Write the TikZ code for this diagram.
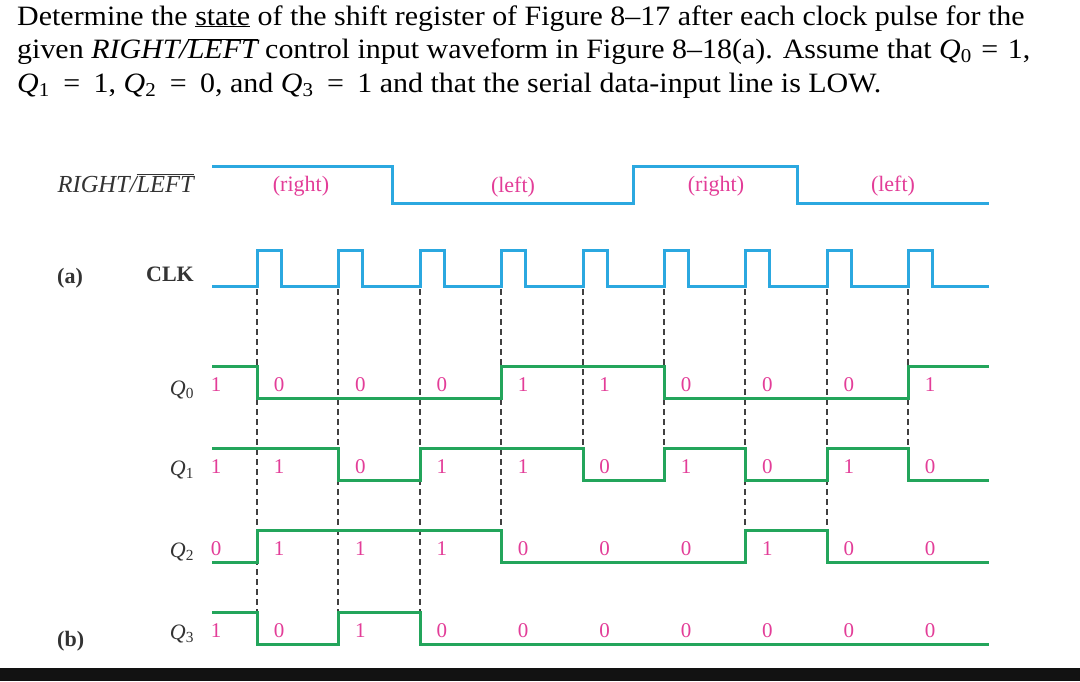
\documentclass[tikz,border=0pt]{standalone}
\usepackage{fontspec}
\setmainfont{Liberation Serif}
\definecolor{wblue}{HTML}{2BA8E0}
\definecolor{wgreen}{HTML}{23A55B}
\definecolor{wpink}{HTML}{E33D98}
\definecolor{wtext}{HTML}{333333}
\newcommand{\eqsp}[1][0.32em]{\hspace{#1}=\hspace{#1}}
\newcommand{\wide}[1]{\scalebox{1.07}[1]{#1}}
\begin{document}
\begin{tikzpicture}[x=1pt,y=-1pt,line join=miter,
	bluewave/.style={wblue,line width=3pt},
	greenwave/.style={wgreen,line width=3pt},
	guide/.style={black!75,line width=1.8pt,dash pattern=on 6pt off 4pt},
	bit/.style={wpink,font=\fontsize{21}{21}\selectfont,inner sep=0pt},
	sig/.style={wtext,font=\fontsize{22}{22}\selectfont,inner sep=0pt},
	textline/.style={anchor=base west,inner sep=0pt,font=\fontsize{28}{28}\selectfont}]
	\fill[white] (0,0) rectangle (1080,681);
	\useasboundingbox (0,0) rectangle (1080,681);
	\fill[black!93] (0,668) rectangle (1080,681);
	% question text
	\node[textline] (l1) at (17,25) {\wide{Determine the \underline{state} of the shift register of Figure 8--17 after each clock pulse for the}};
	\node[textline] (l2) at (17,58.5) {\wide{given \textit{RIGHT/$\overline{\mbox{\textit{LEFT}}}$} control input waveform in Figure 8--18(a). Assume that \textit{Q}\textsubscript{0}\eqsp 1,}};
	\node[textline] (l3) at (17,92) {\wide{\textit{Q}\textsubscript{1}\eqsp[0.45em]1, \textit{Q}\textsubscript{2}\eqsp[0.45em]0, and \textit{Q}\textsubscript{3}\eqsp[0.45em]1 and that the serial data-input line is LOW.}};
	% signal names
	\node[sig,anchor=base east,font=\fontsize{24.5}{24.5}\selectfont] (rl) at (194,192) {\textit{RIGHT/$\overline{\mbox{\textit{LEFT}}}$}};
	\node[sig,anchor=base east] (clk) at (194,281) {\textbf{CLK}};
	\node[sig,anchor=base west] (a) at (57,283) {\textbf{(a)}};
	\node[sig,anchor=base west] (b) at (57,646) {\textbf{(b)}};
	\foreach \i/\y in {0/390,1/470,2/552,3/634}
		\node[sig] (q\i) at (182,\y) {\textit{Q}\textsubscript{\i}};
	% clock edges
	\foreach \x/\yend in {257/612,338/612,420/612,501/530,583/448,664/448,745/530,827/530,908/448}
		\draw[guide] (\x,289) -- (\x,\yend);
	% RIGHT/LEFT and CLK
	\draw[bluewave] (212,166) -- (392,166) -- (392,203) -- (633,203) -- (633,166) -- (797,166) -- (797,203) -- (989,203);
	\draw[bluewave] (212,286) \foreach \x in {257,338,420,501,583,664,745,827,908} { -- (\x,286) -- (\x,250) -- ({\x+24},250) -- ({\x+24},286) } -- (989,286);
	\node[bit,font=\fontsize{22}{22}\selectfont] (r1) at (301,186) {(right)};
	\node[bit,font=\fontsize{22}{22}\selectfont] (f1) at (513,187) {(left)};
	\node[bit,font=\fontsize{22}{22}\selectfont] (r2) at (716,186) {(right)};
	\node[bit,font=\fontsize{22}{22}\selectfont] (f2) at (893,186) {(left)};
	% Q outputs
	\draw[greenwave] (212,366) -- (257,366) -- (257,398) -- (501,398) -- (501,366) -- (664,366) -- (664,398) -- (908,398) -- (908,366) -- (989,366);
	\draw[greenwave] (212,448) -- (338,448) -- (338,480) -- (420,480) -- (420,448) -- (583,448) -- (583,480) -- (664,480) -- (664,448) -- (745,448) -- (745,480) -- (827,480) -- (827,448) -- (908,448) -- (908,480) -- (989,480);
	\draw[greenwave] (212,562) -- (257,562) -- (257,530) -- (501,530) -- (501,562) -- (745,562) -- (745,530) -- (827,530) -- (827,562) -- (989,562);
	\draw[greenwave] (212,612) -- (257,612) -- (257,644) -- (338,644) -- (338,612) -- (420,612) -- (420,644) -- (989,644);
	% states after each pulse
	\foreach \y/\s/\bits in {385/1/{0,0,0,1,1,0,0,0,1},467/1/{1,0,1,1,0,1,0,1,0},549/0/{1,1,1,0,0,0,1,0,0},631/1/{0,1,0,0,0,0,0,0,0}}{
		\node[bit] at (216,\y) {\s};
		\foreach \v [count=\k from 0] in \bits
			\node[bit] at ({279+81.4*\k},\y) {\v};
	}
\end{tikzpicture}
\end{document}
